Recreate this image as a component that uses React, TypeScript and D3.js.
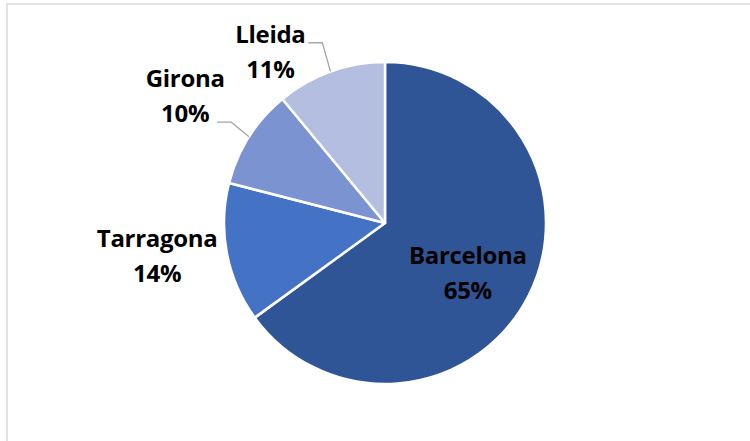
import { useMemo } from 'react'
import * as d3 from 'd3'

const provinces = ['Barcelona', 'Tarragona', 'Girona', 'Lleida']
const shares = [65, 14, 10, 11]
const colors = ['#2F5597', '#4472C4', '#7B93D1', '#B3BEE0']

// label placement relative to each slice (radius factor, angle nudge in degrees)
const labelLayout = [
  { rf: 0.6, da: 4, leader: null },
  { rf: 1.43, da: 2.6, leader: null },
  { rf: 1.47, da: 0, leader: { line: 1, dx: 32 } },
  { rf: 1.28, da: -14, leader: { line: 0, dx: 38 } },
]

const W = 750
const H = 441
const cx = 385
const cy = 223
const radius = 161
const lineGap = 35

export default function App() {
  const arcs = useMemo(() => {
    const pie = d3.pie<number>().sort(null).value(d => d)
    return pie(shares)
  }, [])

  const arc = d3.arc<d3.PieArcDatum<number>>().innerRadius(0).outerRadius(radius)
  const total = d3.sum(shares)

  const polar = (a: number, r: number) => [Math.sin(a) * r, -Math.cos(a) * r]

  return (
    <svg
      width={W}
      height={H}
      style={{ position: 'absolute', left: 0, top: 0, display: 'block', background: '#fff' }}
      fontFamily="'Open Sans', 'Noto Sans', sans-serif"
    >
      <rect x={7} y={4} width={W + 20} height={H + 20} fill="#fff" stroke="#d9d9d9" strokeWidth={1.5} />
      <g transform={`translate(${cx},${cy})`}>
        {arcs.map((a, i) => (
          <path key={provinces[i]} d={arc(a) || ''} fill={colors[i]} stroke="#fff" strokeWidth={2.5} strokeLinejoin="round" />
        ))}
        {arcs.map((a, i) => {
          const lay = labelLayout[i]
          const mid = (a.startAngle + a.endAngle) / 2
          const [lx, ly] = polar(mid + (lay.da * Math.PI) / 180, radius * lay.rf)
          const b1 = ly - 9
          const pct = Math.round((a.value / total) * 100) + '%'
          let leader = null
          if (lay.leader) {
            const [ex, ey] = polar(mid, radius)
            const y0 = lay.leader.line === 0 ? b1 : b1 + lineGap
            const x0 = lx + lay.leader.dx
            leader = (
              <polyline
                points={`${x0},${y0} ${x0 + 14},${y0} ${ex},${ey}`}
                fill="none"
                stroke="#a6a6a6"
                strokeWidth={1.3}
              />
            )
          }
          return (
            <g key={'l' + i}>
              {leader}
              <text textAnchor="middle" fontWeight={700} fontSize={24} letterSpacing={-0.3} fill="#000">
                <tspan x={lx} y={b1}>{provinces[i]}</tspan>
                <tspan x={lx} y={b1 + lineGap}>{pct}</tspan>
              </text>
            </g>
          )
        })}
      </g>
    </svg>
  )
}
